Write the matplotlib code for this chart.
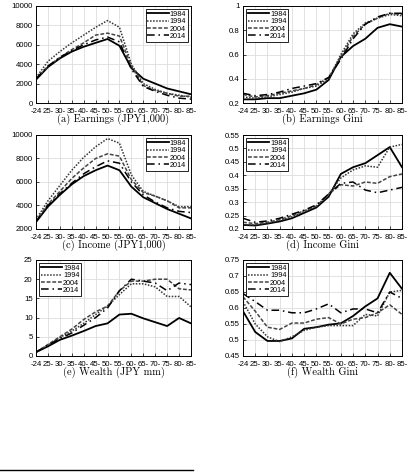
import numpy as np
import matplotlib
matplotlib.use('Agg')
import matplotlib.pyplot as plt
from matplotlib.lines import Line2D

ages = ['-24', '25-', '30-', '35-', '40-', '45-', '50-', '55-', '60-', '65-', '70-', '75-', '80-', '85-']
years = ['1984', '1994', '2004', '2014']

earn_1984 = [2400, 3700, 4600, 5300, 5800, 6200, 6600, 5900, 3600, 2500, 2000, 1500, 1200, 900]
earn_1994 = [2600, 4300, 5300, 6200, 7000, 7800, 8500, 7800, 4000, 2000, 1400, 1000, 800, 600]
earn_2004 = [2500, 3800, 4700, 5500, 6200, 7000, 7200, 6900, 3800, 1800, 1300, 1000, 700, 700]
earn_2014 = [2500, 3800, 4700, 5400, 6000, 6500, 6800, 6300, 3500, 1700, 1200, 800, 500, 400]

egini_1984 = [0.23, 0.23, 0.24, 0.24, 0.26, 0.28, 0.31, 0.39, 0.58, 0.67, 0.73, 0.82, 0.85, 0.83]
egini_1994 = [0.25, 0.24, 0.25, 0.27, 0.29, 0.32, 0.34, 0.40, 0.60, 0.77, 0.86, 0.90, 0.93, 0.92]
egini_2004 = [0.27, 0.25, 0.26, 0.28, 0.30, 0.32, 0.35, 0.41, 0.58, 0.75, 0.85, 0.90, 0.94, 0.93]
egini_2014 = [0.28, 0.26, 0.27, 0.29, 0.32, 0.34, 0.36, 0.41, 0.56, 0.73, 0.85, 0.91, 0.94, 0.94]

inc_1984 = [2600, 3900, 4900, 5800, 6500, 7000, 7400, 7000, 5600, 4700, 4200, 3700, 3300, 2900]
inc_1994 = [2800, 4400, 5700, 7000, 8100, 9000, 9700, 9300, 6600, 5200, 4800, 4400, 3900, 3900]
inc_2004 = [2700, 4100, 5200, 6300, 7200, 8000, 8400, 8200, 6200, 5100, 4800, 4400, 3800, 3800]
inc_2014 = [2600, 4000, 5000, 5900, 6700, 7300, 7800, 7600, 6000, 4900, 4300, 3800, 3500, 3400]

igini_1984 = [0.215, 0.213, 0.22, 0.228, 0.24, 0.26, 0.28, 0.32, 0.405, 0.43, 0.445, 0.475, 0.505, 0.43]
igini_1994 = [0.215, 0.215, 0.222, 0.232, 0.245, 0.265, 0.285, 0.33, 0.39, 0.42, 0.435, 0.43, 0.505, 0.515]
igini_2004 = [0.225, 0.22, 0.225, 0.235, 0.25, 0.268, 0.285, 0.33, 0.365, 0.36, 0.375, 0.37, 0.395, 0.405]
igini_2014 = [0.24, 0.225, 0.23, 0.24, 0.255, 0.27, 0.29, 0.33, 0.37, 0.375, 0.345, 0.335, 0.345, 0.355]

wlth_1984 = [1, 2.5, 4.2, 5.3, 6.5, 7.8, 8.5, 10.8, 11, 9.8, 8.8, 7.8, 9.9, 8.5]
wlth_1994 = [1, 2.8, 4.8, 6.5, 8.5, 10.8, 13, 16, 18.8, 18.8, 18, 15.5, 15.5, 12.8]
wlth_2004 = [1, 3, 5, 7, 9.5, 11.5, 13, 17, 19.5, 19.5, 20, 20, 17.5, 17.2]
wlth_2014 = [1, 2.8, 4.5, 6, 8, 10, 12.5, 17, 20, 19.5, 19, 17, 19, 18.6]

wgini_1984 = [0.59, 0.525, 0.497, 0.497, 0.505, 0.535, 0.54, 0.548, 0.552, 0.575, 0.605, 0.63, 0.71, 0.66]
wgini_1994 = [0.62, 0.55, 0.51, 0.495, 0.51, 0.53, 0.54, 0.545, 0.545, 0.545, 0.58, 0.575, 0.65, 0.655]
wgini_2004 = [0.635, 0.59, 0.54, 0.533, 0.553, 0.553, 0.565, 0.57, 0.55, 0.565, 0.57, 0.585, 0.61, 0.58]
wgini_2014 = [0.645, 0.62, 0.593, 0.593, 0.585, 0.585, 0.597, 0.613, 0.585, 0.597, 0.597, 0.585, 0.65, 0.63]

panels = [
    ([earn_1984, earn_1994, earn_2004, earn_2014], '(a) Earnings (JPY1,000)', (0, 10000), np.arange(0, 10001, 2000), 'upper right'),
    ([egini_1984, egini_1994, egini_2004, egini_2014], '(b) Earnings Gini', (0.2, 1.0), [0.2, 0.4, 0.6, 0.8, 1.0], 'upper left'),
    ([inc_1984, inc_1994, inc_2004, inc_2014], '(c) Income (JPY1,000)', (2000, 10000), np.arange(2000, 10001, 2000), 'upper right'),
    ([igini_1984, igini_1994, igini_2004, igini_2014], '(d) Income Gini', (0.2, 0.55), np.arange(0.2, 0.551, 0.05), 'upper left'),
    ([wlth_1984, wlth_1994, wlth_2004, wlth_2014], '(e) Wealth (JPY mm)', (0, 25), np.arange(0, 26, 5), 'upper left'),
    ([wgini_1984, wgini_1994, wgini_2004, wgini_2014], '(f) Wealth Gini', (0.45, 0.75), np.arange(0.45, 0.751, 0.05), 'upper left'),
]

styles = [
    dict(color='black', linestyle='-', linewidth=1.3),
    dict(color='#333333', linestyle=(0, (1, 1)), linewidth=1.1),
    dict(color='#444444', linestyle=(0, (2.5, 1.2)), linewidth=1.1),
    dict(color='black', linestyle=(0, (5, 2.5, 1, 2.5)), linewidth=1.1),
]

W, H = 415, 472
fig = plt.figure(figsize=(W / 100, H / 100), dpi=100)

# axes boxes in pixels: left, right, top, bottom
cols = [(36, 191), (243, 402)]
rows = [(6, 103), (135, 229), (260, 356)]

x = np.arange(len(ages))
tick_font = dict(family='Liberation Sans', size=5.6)

for k, (series, caption, ylim, yticks, loc) in enumerate(panels):
    c = cols[k % 2]
    r = rows[k // 2]
    ax = fig.add_axes([c[0] / W, 1 - r[1] / H, (c[1] - c[0]) / W, (r[1] - r[0]) / H])
    for vals, yr, st in zip(series, years, styles):
        ax.plot(x, vals, label=yr, **st)
    ax.set_xlim(0, len(ages) - 1)
    ax.set_ylim(*ylim)
    ax.set_xticks(x)
    ax.set_xticklabels(ages, fontdict=tick_font)
    ax.set_yticks(yticks)
    ax.set_yticklabels([('%g' % v) for v in yticks], fontdict=tick_font)
    ax.tick_params(direction='in', length=2, width=0.5)
    ax.tick_params(axis='x', pad=3.5)
    ax.tick_params(axis='y', pad=2.5)
    ax.grid(True, color='#dddddd', linewidth=0.6)
    ax.set_axisbelow(True)
    for sp in ax.spines.values():
        sp.set_linewidth(0.7)
    leg = ax.legend(loc=loc, prop=dict(family='Liberation Sans', size=5.2),
                    handlelength=3.0, handletextpad=0.1, borderpad=0.25,
                    labelspacing=0.05, fancybox=False, framealpha=1,
                    edgecolor='black', borderaxespad=0.4)
    leg.get_frame().set_linewidth(0.6)
    cx = (c[0] + c[1]) / 2 / W
    fig.text(cx, 1 - (r[1] + 16) / H, caption, family='cmr10', size=7.5,
             ha='center', va='center')

fig.add_artist(Line2D([0, 193 / W], [1 - 470 / H, 1 - 470 / H], color='black', linewidth=1.0))

fig.savefig('out.png', dpi=100)
